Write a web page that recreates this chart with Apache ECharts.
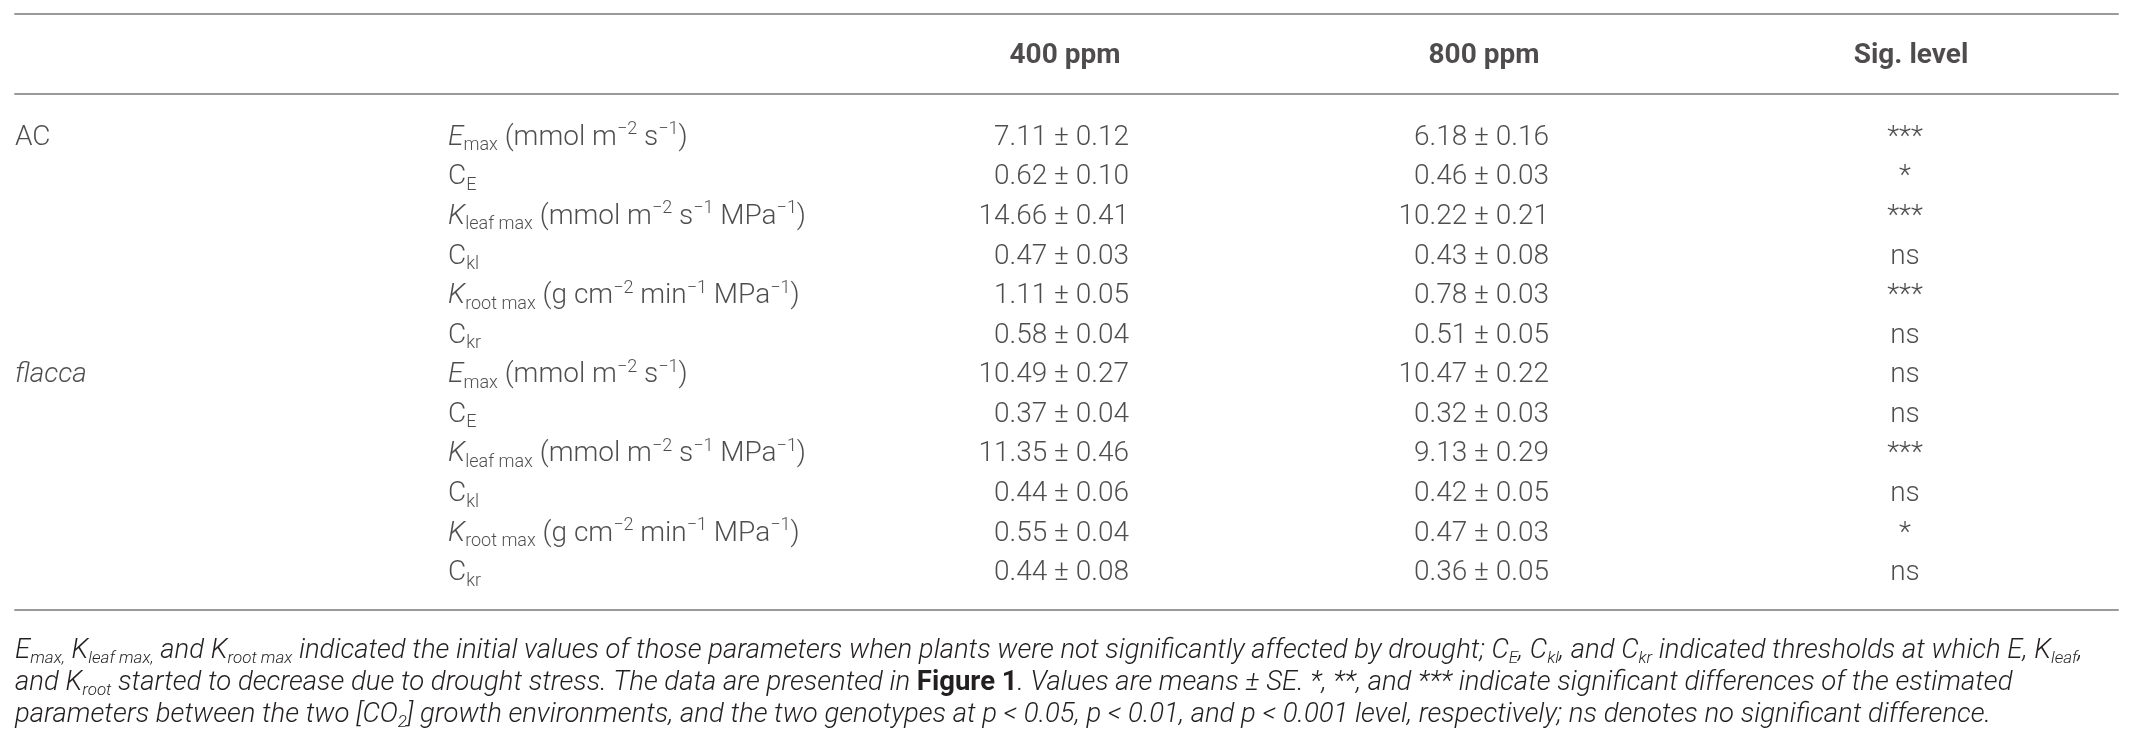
<!DOCTYPE html>
<html>
<head>
<meta charset="utf-8">
<script src="https://cdn.jsdelivr.net/npm/echarts@6/dist/echarts.min.js"></script>
<style>
html,body{margin:0;padding:0;background:#fff;}
#chart{width:2135px;height:743px;}
</style>
</head>
<body>
<div id="chart"></div>
<script>
// ---------- data ----------
var headers = ['400 ppm', '800 ppm', 'Sig. level'];
var genotypes = ['AC', 'flacca'];
var genotypeRows = [0, 6];
var params = [
  '{i|E}{sub|max} (mmol m{sup|\u22122} s{sup|\u22121})',
  'C{sub|E}',
  '{i|K}{sub|leaf max} (mmol m{sup|\u22122} s{sup|\u22121} MPa{sup|\u22121})',
  'C{sub|kl}',
  '{i|K}{sub|root max} (g cm{sup|\u22122} min{sup|\u22121} MPa{sup|\u22121})',
  'C{sub|kr}',
  '{i|E}{sub|max} (mmol m{sup|\u22122} s{sup|\u22121})',
  'C{sub|E}',
  '{i|K}{sub|leaf max} (mmol m{sup|\u22122} s{sup|\u22121} MPa{sup|\u22121})',
  'C{sub|kl}',
  '{i|K}{sub|root max} (g cm{sup|\u22122} min{sup|\u22121} MPa{sup|\u22121})',
  'C{sub|kr}'
];
var mean400 = [7.11, 0.62, 14.66, 0.47, 1.11, 0.58, 10.49, 0.37, 11.35, 0.44, 0.55, 0.44];
var se400   = [0.12, 0.10, 0.41, 0.03, 0.05, 0.04, 0.27, 0.04, 0.46, 0.06, 0.04, 0.08];
var mean800 = [6.18, 0.46, 10.22, 0.43, 0.78, 0.51, 10.47, 0.32, 9.13, 0.42, 0.47, 0.36];
var se800   = [0.16, 0.03, 0.21, 0.08, 0.03, 0.05, 0.22, 0.03, 0.29, 0.05, 0.03, 0.05];
var sigLevel = ['***', '*', '***', 'ns', '***', 'ns', 'ns', 'ns', '***', 'ns', '*', 'ns'];
var footnoteLines = [
  'E{s|max,} K{s|leaf max,} and K{s|root max} indicated the initial values of those parameters when plants were not significantly affected by drought; C{s|E}, C{s|kl}, and C{s|kr} indicated thresholds at which E, K{s|leaf},',
  'and K{s|root} started to decrease due to drought stress. The data are presented in {b|Figure 1}. Values are means \u00b1 SE. *, **, and *** indicate significant differences of the estimated',
  'parameters between the two [CO{s|2}] growth environments, and the two genotypes at p < 0.05, p < 0.01, and p < 0.001 level, respectively; ns denotes no significant difference.'
];

// ---------- layout ----------
var FONT = 'Roboto, "Liberation Sans", Arial, sans-serif';
var TXT = '#231f20';
var RULE = '#9a9a9a';
var colX = {geno: 15, param: 448, c400: 1129, c800: 1549, sig: 1905};
var headX = [1065, 1484, 1911];
var NUDGE = [0, 2];

var rowKeys = mean400.map(function (_, i) { return 'r' + i; });

function fmt(m, s) { return m.toFixed(2) + ' \u00b1 ' + s.toFixed(2); }

var baseLabel = {
  show: true, offset: NUDGE,
  fontFamily: FONT, fontSize: 28, fontWeight: 300, lineHeight: 34, color: TXT,
  rich: {
    i:   {fontFamily: FONT, fontSize: 28, fontWeight: 300, fontStyle: 'italic', lineHeight: 34, color: TXT},
    sub: {fontFamily: FONT, fontSize: 18, fontWeight: 300, lineHeight: 18, verticalAlign: 'bottom', color: TXT},
    sup: {fontFamily: FONT, fontSize: 18, fontWeight: 300, lineHeight: 24, verticalAlign: 'top', color: TXT}
  }
};
function lab(extra) { return Object.assign({}, baseLabel, extra); }

function col(xVal, rows) { return rows.map(function (r) { return [xVal, r]; }); }
var allRows = rowKeys.map(function (_, i) { return i; });

function axisX(gridIndex, position, showLine, offset) {
  return {
    type: 'value', gridIndex: gridIndex, position: position, min: 15, max: 2118, offset: offset || 0,
    axisLine: {show: showLine, onZero: false, lineStyle: {color: RULE, width: 2}},
    axisTick: {show: false}, axisLabel: {show: false}, splitLine: {show: false}
  };
}

var option = {
  animation: false,
  backgroundColor: '#ffffff',
  title: {
    text: footnoteLines.join('\n'),
    left: 15, top: 635, padding: 0,
    textStyle: {
      fontFamily: FONT, fontSize: 27.5, fontWeight: 300, fontStyle: 'italic', lineHeight: 32, color: TXT,
      rich: {
        s: {fontFamily: FONT, fontSize: 17, fontWeight: 300, fontStyle: 'italic', lineHeight: 14, verticalAlign: 'bottom', color: TXT},
        b: {fontFamily: FONT, fontSize: 27.5, fontWeight: 'bold', fontStyle: 'normal', lineHeight: 32, color: TXT}
      }
    }
  },
  grid: [
    {left: 15, right: 17, top: 14, height: 80},
    {left: 15, right: 17, top: 116, height: 475}
  ],
  xAxis: [
    axisX(0, 'top', true),
    axisX(0, 'bottom', true),
    axisX(1, 'bottom', true, 19)
  ],
  yAxis: [
    {type: 'category', gridIndex: 0, data: ['head'], show: false},
    {type: 'category', gridIndex: 1, data: rowKeys, inverse: true, show: false}
  ],
  series: [
    {
      type: 'scatter', xAxisIndex: 0, yAxisIndex: 0, symbolSize: 0, silent: true,
      data: headX.map(function (x) { return [x, 0]; }),
      label: {show: true, position: 'inside', offset: NUDGE, fontFamily: FONT, fontSize: 28, fontWeight: 'bold', color: TXT,
        formatter: function (p) { return headers[p.dataIndex]; }}
    },
    {
      type: 'scatter', xAxisIndex: 2, yAxisIndex: 1, symbolSize: 0, silent: true,
      data: col(colX.geno, genotypeRows),
      label: lab({position: 'right', distance: 0,
        formatter: function (p) { return p.dataIndex === 1 ? '{i|' + genotypes[1] + '}' : genotypes[0]; }})
    },
    {
      type: 'scatter', xAxisIndex: 2, yAxisIndex: 1, symbolSize: 0, silent: true,
      data: col(colX.param, allRows),
      label: lab({position: 'right', distance: 0,
        formatter: function (p) { return params[p.dataIndex]; }})
    },
    {
      type: 'scatter', xAxisIndex: 2, yAxisIndex: 1, symbolSize: 0, silent: true,
      data: col(colX.c400, allRows),
      label: lab({position: 'left', distance: 0,
        formatter: function (p) { return fmt(mean400[p.dataIndex], se400[p.dataIndex]); }})
    },
    {
      type: 'scatter', xAxisIndex: 2, yAxisIndex: 1, symbolSize: 0, silent: true,
      data: col(colX.c800, allRows),
      label: lab({position: 'left', distance: 0,
        formatter: function (p) { return fmt(mean800[p.dataIndex], se800[p.dataIndex]); }})
    },
    {
      type: 'scatter', xAxisIndex: 2, yAxisIndex: 1, symbolSize: 0, silent: true,
      data: col(colX.sig, allRows),
      label: lab({position: 'inside',
        formatter: function (p) { return sigLevel[p.dataIndex]; }})
    }
  ]
};

var chart = echarts.init(document.getElementById('chart'), null, {renderer: 'canvas'});
chart.setOption(option);
</script>
</body>
</html>
